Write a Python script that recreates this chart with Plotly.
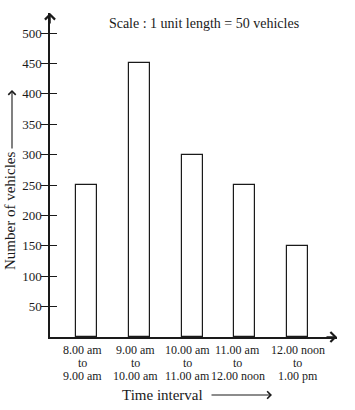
import plotly.graph_objects as go

# ---- data ----
starts = ["8.00 am", "9.00 am", "10.00 am", "11.00 am", "12.00 noon"]
ends = ["9.00 am", "10.00 am", "11.00 am", "12.00 noon", "1.00 pm"]
vehicles = [250, 450, 300, 250, 150]
y_ticks = [50, 100, 150, 200, 250, 300, 350, 400, 450, 500]
categories = [f"{s} to {e}" for s, e in zip(starts, ends)]

FONT = "Liberation Serif"
INK = "#1a1a1a"
W, H = 355, 410

fig = go.Figure()
fig.add_trace(go.Bar(
    x=categories, y=vehicles, width=0.40,
    marker=dict(color="white", line=dict(color=INK, width=1.2)),
    showlegend=False, hoverinfo="skip",
))
# invisible trace on overlay axis to draw inward tick halves
fig.add_trace(go.Scatter(x=[categories[0]], y=[None], yaxis="y2",
                         showlegend=False, hoverinfo="skip"))

fig.update_layout(
    width=W, height=H,
    margin=dict(l=50, r=W - 337, t=13, b=H - 337),
    paper_bgcolor="white", plot_bgcolor="white",
    font=dict(family=FONT, color=INK),
    bargap=0,
    xaxis=dict(
        type="category", range=[-0.70, 4.75],
        showline=True, linecolor=INK, linewidth=1.5,
        showgrid=False, zeroline=False, ticks="", showticklabels=False,
    ),
    yaxis=dict(
        range=[0, 532.9], tickvals=y_ticks,
        showline=True, linecolor=INK, linewidth=1.5,
        showgrid=False, zeroline=False,
        ticks="outside", ticklen=7, tickwidth=1.2, tickcolor=INK,
        ticklabelstandoff=-3,
        tickfont=dict(family=FONT, size=13, color=INK),
    ),
    yaxis2=dict(
        overlaying="y", side="left", anchor="x",
        range=[0, 532.9], tickvals=y_ticks,
        showline=False, showgrid=False, zeroline=False,
        ticks="inside", ticklen=7, tickwidth=1.2, tickcolor=INK,
        showticklabels=False,
    ),
    title=dict(
        text="Scale : 1 unit length = 50 vehicles",
        x=204 / W, xref="container", xanchor="center",
        y=1 - 23 / H, yref="container", yanchor="middle",
        font=dict(family=FONT, size=14, color=INK),
    ),
)

annotations = []
# multi-line category labels (one text per line, tightly stacked)
label_xshift = [-4, -4, -5, -7, 0]
for i, (c, s, e) in enumerate(zip(categories, starts, ends)):
    for txt, dy in ((s, -13), ("to", -26), (e, -39)):
        annotations.append(dict(
            x=c, y=0, xref="x", yref="y", text=txt, showarrow=False,
            xanchor="center", yanchor="middle", yshift=dy, xshift=label_xshift[i],
            borderpad=0, borderwidth=0,
            font=dict(family=FONT, size=12, color=INK),
        ))

# axis arrowheads
annotations.append(dict(x=0, y=1, xref="paper", yref="paper", text="",
                        showarrow=True, ax=0, ay=12, arrowhead=4, arrowsize=1.3,
                        arrowwidth=1.5, arrowcolor=INK, standoff=0))
annotations.append(dict(x=1, y=0, xref="paper", yref="paper", text="",
                        showarrow=True, ax=-12, ay=0, arrowhead=4, arrowsize=1.3,
                        arrowwidth=1.5, arrowcolor=INK, standoff=0))

# y-axis title with arrow
annotations.append(dict(x=(10 - 50) / 287, y=(337 - 211) / 324, xref="paper", yref="paper",
                        text="Number of vehicles", textangle=-90, showarrow=False,
                        xanchor="center", yanchor="middle",
                        font=dict(family=FONT, size=15, color=INK)))
annotations.append(dict(x=(12 - 50) / 287, y=(337 - 90) / 324, xref="paper", yref="paper",
                        text="", showarrow=True, ax=0, ay=60, arrowhead=4, arrowsize=1.3,
                        arrowwidth=1.1, arrowcolor=INK, standoff=0))

# x-axis title with arrow
annotations.append(dict(x=(162 - 50) / 287, y=(337 - 395) / 324, xref="paper", yref="paper",
                        text="Time interval", showarrow=False,
                        xanchor="center", yanchor="middle",
                        font=dict(family=FONT, size=15, color=INK)))
annotations.append(dict(x=(272 - 50) / 287, y=(337 - 395) / 324, xref="paper", yref="paper",
                        text="", showarrow=True, ax=-62, ay=0, arrowhead=4, arrowsize=1.3,
                        arrowwidth=1.1, arrowcolor=INK, standoff=0))

fig.update_layout(annotations=annotations)
# remove the browser's default 8px body margin so the figure fills the window exactly
fig.write_html("out.html", config={"displayModeBar": False},
               post_script="document.body.style.margin='0';")
